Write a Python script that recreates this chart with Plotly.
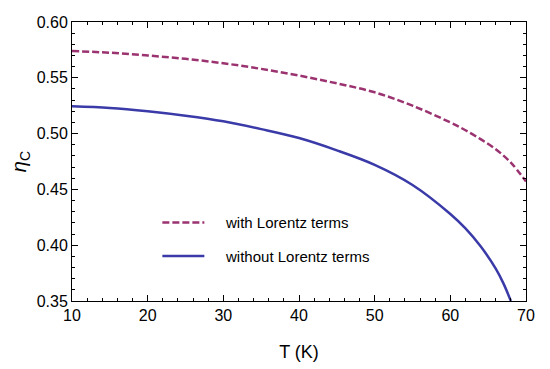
import plotly.graph_objects as go

T_with = [10, 15, 20, 25, 30, 35, 40, 45, 50, 55, 60, 62, 64, 66, 68, 70]
eta_with = [0.574, 0.5725, 0.570, 0.567, 0.563, 0.558, 0.552, 0.545, 0.537, 0.525,
            0.510, 0.503, 0.495, 0.486, 0.474, 0.457]

T_without = [10, 15, 20, 25, 30, 35, 40, 45, 50, 55, 60, 62, 64, 66, 67, 68]
eta_without = [0.5245, 0.523, 0.520, 0.516, 0.511, 0.504, 0.496, 0.485, 0.472, 0.454,
               0.428, 0.415, 0.399, 0.379, 0.366, 0.350]

x_ticks = [10, 20, 30, 40, 50, 60, 70]
y_ticks = [0.35, 0.40, 0.45, 0.50, 0.55, 0.60]

font_family = "Liberation Sans, Arial, sans-serif"
pad = "\u00a0" * 4

fig = go.Figure()
fig.add_trace(go.Scatter(
    x=T_with, y=eta_with, mode="lines", name=pad + "with Lorentz terms",
    legendgroup="a",
    line=dict(color="#9B3370", width=2.5, dash="7px,3px", shape="spline"),
))
fig.add_trace(go.Scatter(
    x=T_without, y=eta_without, mode="lines", name=pad + "without Lorentz terms",
    legendgroup="b",
    line=dict(color="#3A3AA8", width=2.5, shape="spline"),
))

axis_common = dict(
    showline=True, linecolor="black", linewidth=1, mirror="ticks",
    ticks="inside", ticklen=6, tickcolor="black", tickwidth=1,
    showgrid=False, zeroline=False, automargin=False,
    tickfont=dict(family=font_family, size=16, color="black"),
)

fig.update_xaxes(
    range=[10, 70], tickvals=x_ticks,
    minor=dict(dtick=2, ticks="inside", ticklen=3, tickcolor="black"),
    title=dict(text="T (K)", font=dict(family=font_family, size=18, color="black"), standoff=22),
    **axis_common,
)
fig.update_yaxes(
    range=[0.35, 0.60], tickvals=y_ticks, tickformat=".2f",
    minor=dict(dtick=0.01, ticks="inside", ticklen=3, tickcolor="black"),
    title=dict(text="<i>η</i><sub>C</sub>", font=dict(family=font_family, size=20, color="black"), standoff=10),
    **axis_common,
)

# the page body has an 8px margin, so the figure is sized/offset to compensate
fig.update_layout(
    width=542, height=361,
    margin=dict(l=64, r=24, t=14, b=68),
    paper_bgcolor="white", plot_bgcolor="white",
    font=dict(family=font_family, color="black"),
    legend=dict(
        x=0.188, y=0.34, xanchor="left", yanchor="top",
        bgcolor="rgba(0,0,0,0)", borderwidth=0,
        font=dict(family=font_family, size=15, color="black"),
        tracegroupgap=11, itemwidth=42,
    ),
    showlegend=True,
)

fig.write_html("out.html")
